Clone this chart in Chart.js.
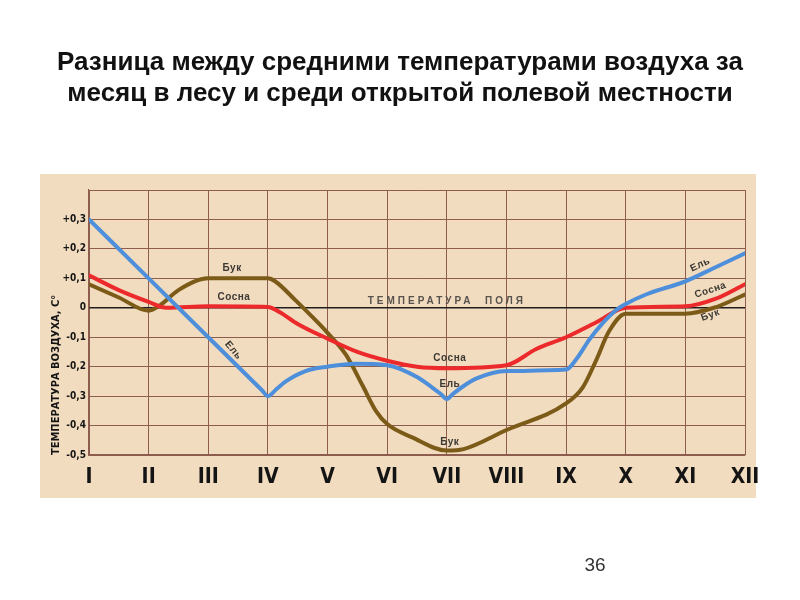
<!DOCTYPE html>
<html>
<head>
<meta charset="utf-8">
<script src="https://cdn.jsdelivr.net/npm/chart.js@4/dist/chart.umd.min.js"></script>
<style>
  html, body { margin: 0; padding: 0; background: #ffffff; }
  #wrap { position: relative; width: 800px; height: 600px; }
  #title { position: absolute; left: 0; top: 46px; width: 800px; text-align: center;
    font-family: 'Liberation Sans', Arial, sans-serif; font-weight: bold; font-size: 26px;
    line-height: 31px; color: #111; }
  #page { position: absolute; left: 575px; top: 554px; width: 40px; text-align: center;
    font-family: 'Liberation Sans', Arial, sans-serif; font-size: 19px; color: #333; }
  canvas { position: absolute; left: 0; top: 0; }
</style>
</head>
<body>
<div id="wrap">
  <canvas id="c" width="800" height="600"></canvas>
  <div id="title">Разница между средними температурами воздуха за<br>месяц в лесу и среди открытой полевой местности</div>
  <div id="page">36</div>
</div>
<script>
// ---- data (month number 1..12, temperature difference °C) ----
const monthLabels = ['I','II','III','IV','V','VI','VII','VIII','IX','X','XI','XII'];

const elMonths   = [1, 2, 3, 3.9, 4, 4.15, 4.3, 4.63, 5, 5.46, 6, 6.5, 6.75, 6.9, 7, 7.1, 7.25, 7.5, 8, 9, 9.17, 9.39, 9.61, 9.83, 10, 10.35, 11, 11.48, 12];
const elValues   = [0.30, 0.10, -0.10, -0.28, -0.30, -0.275, -0.25, -0.215, -0.20, -0.19, -0.195, -0.235, -0.27, -0.293, -0.31, -0.293, -0.27, -0.24, -0.215, -0.21, -0.175, -0.108, -0.053, -0.009, 0.013, 0.046, 0.09, 0.135, 0.185];

const sosnaMonths = [1, 1.5, 2, 2.3, 3, 4, 4.2, 4.5, 5, 5.5, 6, 6.5, 7, 8, 8.5, 9, 9.5, 10, 11, 11.5, 12];
const sosnaValues = [0.11, 0.06, 0.02, 0.0, 0.005, 0.003, -0.015, -0.055, -0.105, -0.15, -0.18, -0.2, -0.205, -0.195, -0.14, -0.1, -0.05, 0.0, 0.005, 0.03, 0.08];

const bukMonths = [1, 1.5, 2, 2.2, 2.5, 3, 3.5, 4, 4.12, 4.46, 4.74, 5, 5.31, 5.59, 5.81, 6, 6.42, 7, 7.28, 8, 9, 9.28, 9.5, 9.72, 10, 11, 11.48, 12];
const bukValues = [0.08, 0.035, -0.01, 0.01, 0.06, 0.10, 0.10, 0.10, 0.09, 0.026, -0.03, -0.085, -0.16, -0.265, -0.35, -0.395, -0.44, -0.485, -0.48, -0.415, -0.325, -0.27, -0.18, -0.08, -0.02, -0.02, 0.0, 0.045];

const yTickMin = -0.5, yTickMax = 0.4, yStep = 0.1;

// in-chart captions: text, month position, value position, rotation (deg)
const captionText  = ['Бук', 'Сосна', 'Ель', 'Сосна', 'Ель', 'Бук', 'Ель', 'Сосна', 'Бук'];
const captionMonth = [3.4, 3.43, 3.42, 7.05, 7.05, 7.05, 11.25, 11.42, 11.42];
const captionValue = [0.133, 0.037, -0.145, -0.17, -0.26, -0.455, 0.146, 0.06, -0.025];
const captionAngle = [0, 0, 50, 0, 0, 0, -25, -18, -20];
const fieldCaption = 'ТЕМПЕРАТУРА  ПОЛЯ';
const fieldCaptionMonth = 7.0, fieldCaptionValue = 0.022;

const toPoints = (xs, ys) => xs.map((x, i) => ({ x: x, y: ys[i] }));

const narrow = "'Liberation Sans Narrow', 'DejaVu Sans Condensed', 'Roboto Condensed', 'Liberation Sans', sans-serif";
const gridColor = '#8e5d4e';

const paperPlugin = {
  id: 'paper',
  beforeDraw(chart) {
    const ctx = chart.ctx;
    ctx.save();
    ctx.fillStyle = '#f2dcbf';
    ctx.fillRect(40, 174, 716, 324);
    ctx.restore();
  },
  afterDatasetsDraw(chart) {
    const ctx = chart.ctx;
    const xs = chart.scales.x, ys = chart.scales.y;
    ctx.save();
    ctx.fillStyle = '#3d3935';
    ctx.font = "bold 10px 'Liberation Sans', Arial, sans-serif";
    ctx.textAlign = 'center';
    ctx.textBaseline = 'middle';
    captionText.forEach((t, i) => {
      ctx.save();
      ctx.translate(xs.getPixelForValue(captionMonth[i]), ys.getPixelForValue(captionValue[i]));
      ctx.rotate(captionAngle[i] * Math.PI / 180);
      ctx.letterSpacing = '0.5px';
      ctx.fillText(t, 0, 0);
      ctx.restore();
    });
    ctx.fillStyle = '#57524d';
    ctx.font = "bold 10px 'Liberation Sans', Arial, sans-serif";
    ctx.letterSpacing = '3px';
    ctx.fillText(fieldCaption, xs.getPixelForValue(fieldCaptionMonth), ys.getPixelForValue(fieldCaptionValue));
    ctx.restore();
  }
};

new Chart(document.getElementById('c'), {
  type: 'line',
  data: {
    datasets: [
      { label: 'Ель', data: toPoints(elMonths, elValues), borderColor: '#4e8fdb', borderWidth: 4,
        pointRadius: 0, cubicInterpolationMode: 'monotone', borderCapStyle: 'round', borderJoinStyle: 'round' },
      { label: 'Сосна', data: toPoints(sosnaMonths, sosnaValues), borderColor: '#ec2a2c', borderWidth: 4,
        pointRadius: 0, cubicInterpolationMode: 'monotone', borderCapStyle: 'round', borderJoinStyle: 'round' },
      { label: 'Бук', data: toPoints(bukMonths, bukValues), borderColor: '#7b5b17', borderWidth: 4,
        pointRadius: 0, cubicInterpolationMode: 'monotone', borderCapStyle: 'round', borderJoinStyle: 'round' }
    ]
  },
  options: {
    responsive: false,
    animation: false,
    events: [],
    layout: { padding: { left: 40, top: 190, right: 55, bottom: 115 } },
    plugins: { legend: { display: false }, title: { display: false }, tooltip: { enabled: false } },
    scales: {
      x: {
        type: 'linear', min: 1, max: 12,
        afterFit(s) { s.height = 30; },
        ticks: { stepSize: 1, autoSkip: false, maxRotation: 0, padding: 10, color: '#141414',
          font: { family: narrow, size: 21, weight: 'bold' },
          callback: (v) => monthLabels[v - 1] },
        grid: { color: gridColor, lineWidth: 1, drawTicks: false },
        border: { color: gridColor, width: 1.2 }
      },
      y: {
        min: yTickMin, max: yTickMax,
        afterFit(s) { s.width = 49; },
        ticks: { stepSize: yStep, padding: 3, color: '#141414',
          font: { family: narrow, size: 10, weight: 'bold' },
          callback: (v) => {
            const r = Math.round(v * 10) / 10;
            if (r >= 0.4) return '';
            if (r === 0) return '0';
            return (r > 0 ? '+' : '-') + Math.abs(r).toFixed(1).replace('.', ',');
          } },
        grid: {
          color: (c) => (c.tick && Math.abs(c.tick.value) < 1e-9) ? '#1e1e1e' : gridColor,
          lineWidth: (c) => (c.tick && Math.abs(c.tick.value) < 1e-9) ? 1.6 : 1,
          drawTicks: false
        },
        border: { color: gridColor, width: 1.2 },
        title: { display: true, text: 'ТЕМПЕРАТУРА ВОЗДУХА, С°', align: 'start', color: '#141414',
          font: { family: narrow, size: 11, weight: 'bold' }, padding: { top: 10, bottom: 0 } }
      }
    }
  },
  plugins: [paperPlugin]
});
</script>
</body>
</html>
